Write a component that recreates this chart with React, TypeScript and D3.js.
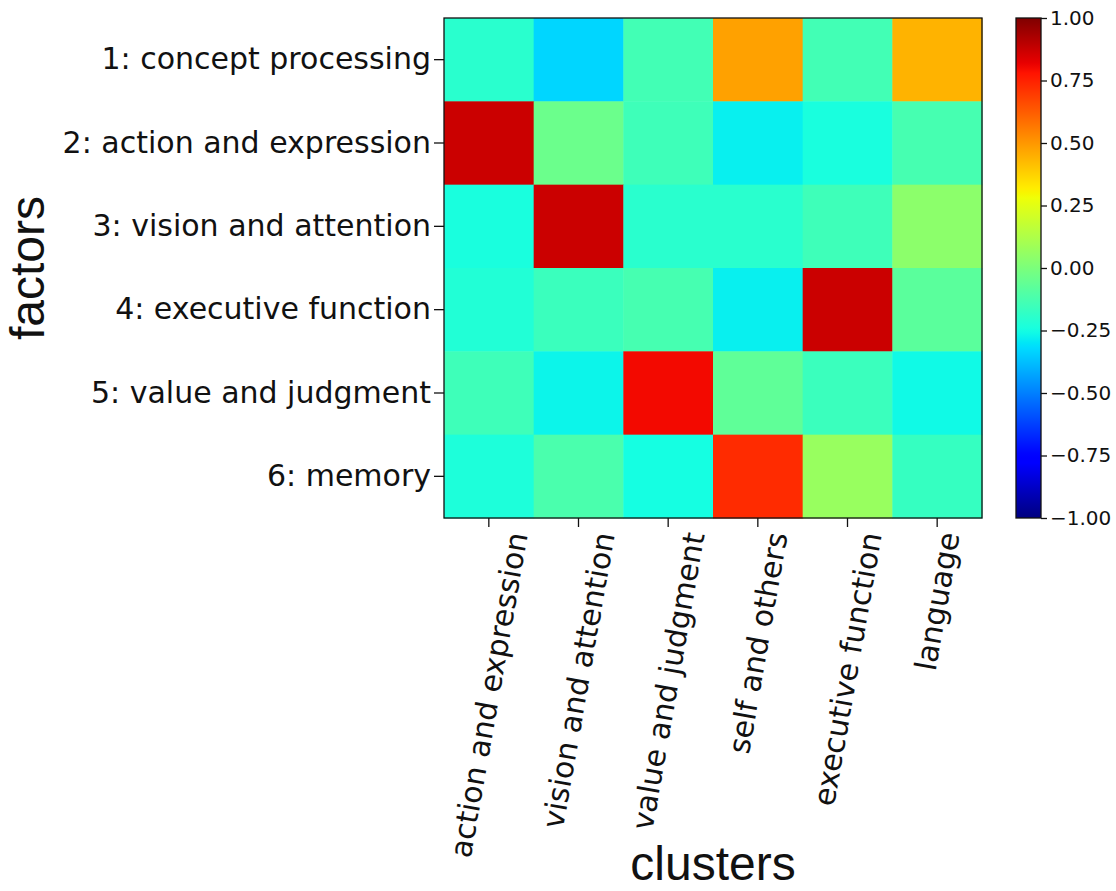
import { useEffect, useRef } from "react";
import * as d3 from "d3";

const factors = [
  "1: concept processing",
  "2: action and expression",
  "3: vision and attention",
  "4: executive function",
  "5: value and judgment",
  "6: memory",
];

const clusters = [
  "action and expression",
  "vision and attention",
  "value and judgment",
  "self and others",
  "executive function",
  "language",
];

// one row per factor, one value per cluster
const values = [
  [-0.2, -0.33, -0.14, 0.48, -0.14, 0.44],
  [0.87, -0.04, -0.15, -0.28, -0.24, -0.13],
  [-0.24, 0.87, -0.2, -0.2, -0.15, 0.04],
  [-0.22, -0.16, -0.13, -0.28, 0.87, -0.08],
  [-0.15, -0.27, 0.8, -0.07, -0.16, -0.26],
  [-0.23, -0.12, -0.25, 0.73, 0.07, -0.17],
];

const colorbarTicks = [-1, -0.75, -0.5, -0.25, 0, 0.25, 0.5, 0.75, 1];

// matplotlib "jet" segment data
const jetRed = d3.scaleLinear([0, 0.35, 0.66, 0.89, 1], [0, 0, 1, 1, 0.5]).clamp(true);
const jetGreen = d3.scaleLinear([0, 0.125, 0.375, 0.64, 0.91, 1], [0, 0, 1, 1, 0, 0]).clamp(true);
const jetBlue = d3.scaleLinear([0, 0.11, 0.34, 0.65, 1], [0.5, 1, 1, 0, 0]).clamp(true);

function jet(t: number) {
  return d3.rgb(jetRed(t) * 255, jetGreen(t) * 255, jetBlue(t) * 255).formatHex();
}

const tickFont = "DejaVu Sans, sans-serif";
const titleFont = "Liberation Sans, Arial, sans-serif";

export default function App() {
  const svgRef = useRef<SVGSVGElement | null>(null);

  useEffect(() => {
    if (!svgRef.current) return;
    const svg = d3.select(svgRef.current);
    svg.selectAll("*").remove();

    const left = 444;
    const right = 982;
    const top = 18;
    const bottom = 518;
    const fs = 30;

    const x = d3.scaleBand<string>().domain(clusters).range([left, right]);
    const y = d3.scaleBand<string>().domain(factors).range([top, bottom]);
    const color = d3.scaleLinear([-1, 1], [0, 1]);

    const cells = factors.flatMap((f, i) =>
      clusters.map((c, j) => ({ f, c, v: values[i][j] }))
    );

    svg
      .append("g")
      .selectAll("rect")
      .data(cells)
      .join("rect")
      .attr("x", (d) => x(d.c) ?? 0)
      .attr("y", (d) => y(d.f) ?? 0)
      .attr("width", x.bandwidth() + 0.5)
      .attr("height", y.bandwidth() + 0.5)
      .attr("fill", (d) => jet(color(d.v)));

    svg
      .append("rect")
      .attr("x", left)
      .attr("y", top)
      .attr("width", right - left)
      .attr("height", bottom - top)
      .attr("fill", "none")
      .attr("stroke", "#111")
      .attr("stroke-width", 1.3);

    // y axis
    const yAxis = svg
      .append("g")
      .attr("transform", `translate(${left},0)`)
      .call(d3.axisLeft(y).tickSize(10).tickPadding(3));
    yAxis.select(".domain").remove();
    yAxis.selectAll("line").attr("stroke", "#111").attr("stroke-width", 1.3);
    yAxis
      .selectAll("text")
      .attr("font-family", tickFont)
      .attr("font-size", fs)
      .attr("fill", "#111");

    // x axis
    const xAxis = svg
      .append("g")
      .attr("transform", `translate(0,${bottom})`)
      .call(d3.axisBottom(x).tickSize(9));
    xAxis.select(".domain").remove();
    xAxis.selectAll("line").attr("stroke", "#111").attr("stroke-width", 1.3);

    const ctx = document.createElement("canvas").getContext("2d");
    if (ctx) ctx.font = `${fs}px DejaVu Sans`;
    const angle = (80 * Math.PI) / 180;
    xAxis
      .selectAll<SVGTextElement, string>("text")
      .attr("font-family", tickFont)
      .attr("font-size", fs)
      .attr("fill", "#111")
      .attr("text-anchor", "middle")
      .attr("dy", "0.35em")
      .attr("y", 0)
      .attr("transform", (d) => {
        const len = ctx ? ctx.measureText(d).width : d.length * fs * 0.6;
        const h = len * Math.sin(angle) + fs * Math.cos(angle);
        return `translate(0,${12 + h / 2}) rotate(-80)`;
      });

    // colorbar
    const cbLeft = 1016;
    const cbWidth = 25;
    const defs = svg.append("defs");
    const grad = defs
      .append("linearGradient")
      .attr("id", "jetgrad")
      .attr("x1", 0)
      .attr("y1", 1)
      .attr("x2", 0)
      .attr("y2", 0);
    grad
      .selectAll("stop")
      .data(d3.range(0, 1.0001, 0.01))
      .join("stop")
      .attr("offset", (d) => d)
      .attr("stop-color", (d) => jet(d));

    svg
      .append("rect")
      .attr("x", cbLeft)
      .attr("y", top)
      .attr("width", cbWidth)
      .attr("height", bottom - top)
      .attr("fill", "url(#jetgrad)")
      .attr("stroke", "#111")
      .attr("stroke-width", 1.3);

    const cbScale = d3.scaleLinear([-1, 1], [bottom, top]);
    const cbAxis = svg
      .append("g")
      .attr("transform", `translate(${cbLeft + cbWidth},0)`)
      .call(
        d3
          .axisRight(cbScale)
          .tickValues(colorbarTicks)
          .tickFormat(d3.format(".2f"))
          .tickSize(6)
          .tickPadding(3)
      );
    cbAxis.select(".domain").remove();
    cbAxis.selectAll("line").attr("stroke", "#111").attr("stroke-width", 1.3);
    cbAxis
      .selectAll("text")
      .attr("font-family", tickFont)
      .attr("font-size", 20)
      .attr("fill", "#111");

    // axis titles
    svg
      .append("text")
      .attr("transform", `translate(44,${(top + bottom) / 2}) rotate(-90)`)
      .attr("text-anchor", "middle")
      .attr("font-family", titleFont)
      .attr("font-size", 48)
      .attr("fill", "#111")
      .text("factors");

    svg
      .append("text")
      .attr("x", (left + right) / 2)
      .attr("y", 880)
      .attr("text-anchor", "middle")
      .attr("font-family", titleFont)
      .attr("font-size", 48)
      .attr("fill", "#111")
      .text("clusters");
  }, []);

  return (
    <svg
      ref={svgRef}
      width={1116}
      height={891}
      style={{ position: "absolute", left: 0, top: 0, background: "#fff" }}
    />
  );
}
